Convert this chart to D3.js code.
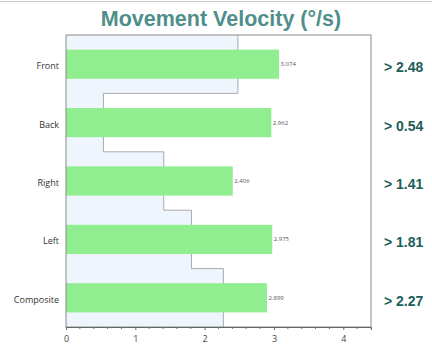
<!DOCTYPE html>
<html>
<head>
<meta charset="utf-8">
<script src="https://cdn.jsdelivr.net/npm/d3@7"></script>
<style>
  html, body { margin: 0; padding: 0; background: #fff; }
  svg { display: block; }
</style>
</head>
<body>
<div id="chart"></div>
<script>
// Movement velocity per direction, with the threshold for each direction
const categories = ["Front", "Back", "Right", "Left", "Composite"];
const velocities = [3.074, 2.962, 2.406, 2.975, 2.899];
const thresholds = [2.48, 0.54, 1.41, 1.81, 2.27];
const thresholdLabels = ["> 2.48", "> 0.54", "> 1.41", "> 1.81", "> 2.27"];
const xTicks = [0, 1, 2, 3, 4];

const W = 432, H = 349;
const margin = { top: 35, right: 61, bottom: 22, left: 66 };
const iw = W - margin.left - margin.right;
const ih = H - margin.top - margin.bottom;

const svg = d3.select("#chart").append("svg")
  .attr("width", W).attr("height", H);

// thin rule across the top
svg.append("line")
  .attr("x1", 0).attr("x2", W).attr("y1", 1.5).attr("y2", 1.5)
  .attr("stroke", "#c8c8c8").attr("stroke-width", 1.2);

svg.append("text")
  .attr("x", 221).attr("y", 26)
  .attr("text-anchor", "middle")
  .attr("font-family", "Liberation Sans, Arial, sans-serif")
  .attr("font-weight", "bold")
  .attr("font-size", 21.5)
  .attr("fill", "#4f8f8b")
  .text("Movement Velocity (°/s)");

const g = svg.append("g").attr("transform", `translate(${margin.left},${margin.top})`);

const x = d3.scaleLinear().domain([0, 4.4]).range([0, iw]);
const y = d3.scaleBand().domain(categories).range([0, ih]).paddingInner(0).paddingOuter(0);

// stepped threshold region
const stepPts = [];
categories.forEach((c, i) => {
  stepPts.push([x(thresholds[i]), y(c)]);
  stepPts.push([x(thresholds[i]), y(c) + y.bandwidth()]);
});
const areaPts = [[0, 0], ...stepPts, [0, ih]];
g.append("path")
  .attr("d", d3.line()(areaPts) + "Z")
  .attr("fill", "#eef5fc");
g.append("path")
  .attr("d", d3.line()(stepPts))
  .attr("fill", "none")
  .attr("stroke", "#a9abb2")
  .attr("stroke-width", 1);

// bars
const barH = y.bandwidth() * 0.5;
g.selectAll("rect.bar").data(categories).join("rect")
  .attr("class", "bar")
  .attr("x", 0)
  .attr("y", c => y(c) + (y.bandwidth() - barH) / 2)
  .attr("width", (c, i) => x(velocities[i]))
  .attr("height", barH)
  .attr("fill", "#90ee90");

// value labels
g.selectAll("text.val").data(categories).join("text")
  .attr("class", "val")
  .attr("x", (c, i) => x(velocities[i]) + 1.5)
  .attr("y", c => y(c) + y.bandwidth() / 2 + 2)
  .attr("font-family", "Open Sans, sans-serif")
  .attr("font-size", 6)
  .attr("fill", "#555")
  .text((c, i) => velocities[i].toFixed(3));

// frame
g.append("rect")
  .attr("x", 0).attr("y", 0).attr("width", iw).attr("height", ih)
  .attr("fill", "none").attr("stroke", "#8a8a8a").attr("stroke-width", 1);

// x axis
const xAxis = g.append("g").attr("transform", `translate(0,${ih})`)
  .call(d3.axisBottom(x).tickValues(xTicks).tickFormat(d3.format("d")).tickSize(3).tickPadding(6));
xAxis.select(".domain").attr("stroke", "#666");
xAxis.selectAll(".tick line").attr("stroke", "#666");
xAxis.selectAll("text")
  .attr("font-family", "Open Sans, sans-serif")
  .attr("font-size", 9)
  .attr("fill", "#444");
const minor = d3.range(0, 4.41, 0.2).filter(v => Math.abs(v - Math.round(v)) > 1e-6);
xAxis.selectAll("line.minor").data(minor).join("line")
  .attr("class", "minor")
  .attr("x1", d => x(d)).attr("x2", d => x(d))
  .attr("y1", 0).attr("y2", 2)
  .attr("stroke", "#777");

// category labels
g.selectAll("text.cat").data(categories).join("text")
  .attr("class", "cat")
  .attr("x", -7)
  .attr("y", c => y(c) + y.bandwidth() / 2 + 5)
  .attr("text-anchor", "end")
  .attr("font-family", "Open Sans, sans-serif")
  .attr("font-size", 9)
  .attr("fill", "#333")
  .text(c => c);

// threshold labels at right
g.selectAll("text.thr").data(categories).join("text")
  .attr("class", "thr")
  .attr("x", iw + 13)
  .attr("y", c => y(c) + y.bandwidth() / 2 + 8)
  .attr("font-family", "Liberation Sans, Arial, sans-serif")
  .attr("font-weight", "bold")
  .attr("font-size", 14)
  .attr("fill", "#1d5e58")
  .text((c, i) => thresholdLabels[i]);
</script>
</body>
</html>
